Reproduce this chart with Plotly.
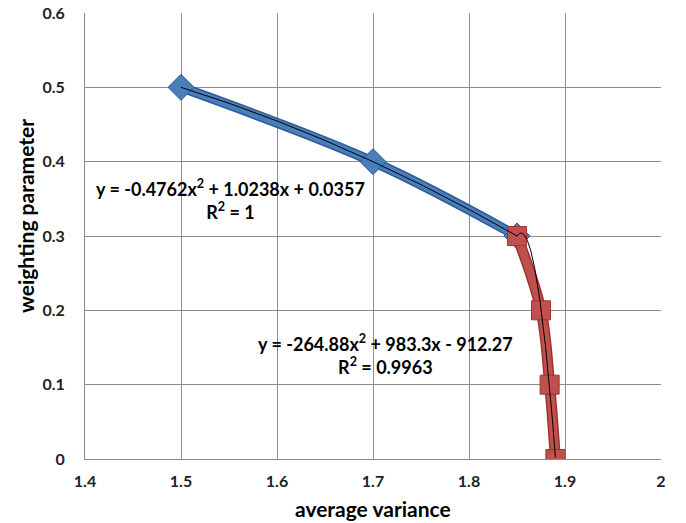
import numpy as np
import plotly.graph_objects as go

# data
blue_x = [1.5, 1.7, 1.85]
blue_y = [0.5, 0.4, 0.3]
red_x = [1.85, 1.875, 1.884, 1.89]
red_y = [0.3, 0.2, 0.1, 0.0]
blue_eq = "y = -0.4762x<sup>2</sup> + 1.0238x + 0.0357<br>R<sup>2</sup> = 1"
red_eq = "y = -264.88x<sup>2</sup> + 983.3x - 912.27<br>R<sup>2</sup> = 0.9963"
x_ticks = [1.4, 1.5, 1.6, 1.7, 1.8, 1.9, 2.0]
x_tick_text = ["1.4", "1.5", "1.6", "1.7", "1.8", "1.9", "2"]
y_ticks = [0, 0.1, 0.2, 0.3, 0.4, 0.5, 0.6]
y_tick_text = ["0", "0.1", "0.2", "0.3", "0.4", "0.5", "0.6"]
x_title = "average variance"
y_title = "weighting parameter"

FONT = "Lato"
BLUE = "#4a7ebb"
BLUE_D = "#2c5d98"
RED = "#c0504d"
RED_D = "#9c3330"

def trend(xs, ys, n=120):
    c = np.polyfit(xs, ys, 2)
    xx = np.linspace(min(xs), max(xs), n)
    return xx, np.polyval(c, xx)

fig = go.Figure()
fig.add_trace(go.Scatter(x=blue_x, y=blue_y, mode="lines", line=dict(color=BLUE_D, width=10, shape="spline"), hoverinfo="skip", showlegend=False))
fig.add_trace(go.Scatter(x=blue_x, y=blue_y, mode="lines+markers", line=dict(color=BLUE, width=7, shape="spline"),
                         marker=dict(symbol="diamond", size=20, color=BLUE, line=dict(color=BLUE_D, width=1)), showlegend=False))
fig.add_trace(go.Scatter(x=red_x, y=red_y, mode="lines", line=dict(color=RED_D, width=11, shape="spline"), hoverinfo="skip", showlegend=False))
fig.add_trace(go.Scatter(x=red_x, y=red_y, mode="lines+markers", line=dict(color=RED, width=8, shape="spline"),
                         marker=dict(symbol="square", size=19, color=RED, line=dict(color=RED_D, width=1)), showlegend=False))
bx, by = trend(blue_x, blue_y)
fig.add_trace(go.Scatter(x=bx, y=by, mode="lines", line=dict(color="black", width=1), showlegend=False))
rx, ry = trend(red_x, red_y)
fig.add_trace(go.Scatter(x=rx, y=ry, mode="lines", line=dict(color="black", width=1), showlegend=False))

fig.add_annotation(x=1.552, y=0.3485, xref="x", yref="y", text="<b>" + blue_eq + "</b>", showarrow=False,
                   font=dict(family=FONT, size=18, color="black"), align="center")
fig.add_annotation(x=1.7135, y=0.1406, xref="x", yref="y", text="<b>" + red_eq + "</b>", showarrow=False,
                   font=dict(family=FONT, size=18, color="black"), align="center")
fig.add_annotation(x=0.5, y=-0.11, xref="paper", yref="paper", text="<b>" + x_title + "</b>", showarrow=False,
                   font=dict(family=FONT, size=21, color="black"), xanchor="center", yanchor="middle")
fig.add_annotation(x=-0.1024, y=0.545, xref="paper", yref="paper", text="<b>" + y_title + "</b>", showarrow=False,
                   textangle=-90, font=dict(family=FONT, size=21, color="black"), xanchor="center", yanchor="middle")

axis_common = dict(showgrid=True, gridcolor="#8c8c8c", gridwidth=1, showline=True, linecolor="#8c8c8c",
                   linewidth=1, zeroline=False, ticks="", automargin=False, ticklabeloverflow="allow",
                   tickfont=dict(family=FONT, size=16, color="#222"))
fig.update_xaxes(range=[1.4, 2.0], tickvals=x_ticks, ticktext=["<b>%s</b>" % t for t in x_tick_text],
                 ticklabelstandoff=8, **axis_common)
fig.update_yaxes(range=[0, 0.6], tickvals=y_ticks, ticktext=["<b>%s</b>" % t for t in y_tick_text],
                 ticklabelstandoff=16, **axis_common)
fig.update_layout(width=686, height=523, margin=dict(l=85, r=25, t=13, b=64),
                  plot_bgcolor="white", paper_bgcolor="white", showlegend=False)
# remove the page's default 8px body margin so the figure fills the window
fig.write_html("out.html", config={"displayModeBar": False},
               post_script="document.body.style.margin='0';")
